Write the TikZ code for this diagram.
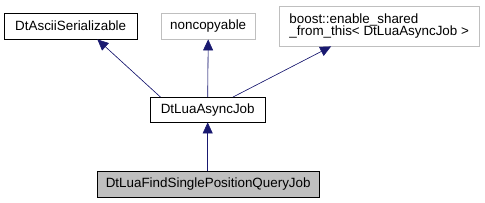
\documentclass[tikz,border=0pt]{standalone}
\usepackage{fontspec}
\setmainfont{Liberation Sans}
\usepackage{xcolor}
\usepackage{tikz}
\usetikzlibrary{positioning,arrows.meta,calc}
\definecolor{edgeblue}{RGB}{25,25,112}
\definecolor{boxgray}{RGB}{191,191,191}

\begin{document}
\begin{tikzpicture}[x=1pt,y=-1pt]
  \useasboundingbox (0,0) rectangle (485,203);
  \tikzset{
    cls/.style={rectangle, draw=black, fill=white, align=left, font=\fontsize{13.4}{12.5}\selectfont, inner sep=0pt, anchor=north west},
    ext/.style={cls, draw=boxgray},
    inh/.style={-{Triangle[length=11pt,width=10pt]}, draw=edgeblue, fill=edgeblue, semithick}
  }
  \node[cls, minimum width=133pt, minimum height=26pt] (ascii) at (4,13) {DtAsciiSerializable};
  \node[ext, minimum width=94pt, minimum height=26pt] (noncopy) at (161,13) {noncopyable};
  \node[ext, minimum width=200pt, minimum height=40pt] (shared) at (279,6) {boost::enable\_shared\\\_from\_this\textless{} DtLuaAsyncJob \textgreater};
  \node[cls, minimum width=115pt, minimum height=25pt] (async) at (150,97) {DtLuaAsyncJob};
  \node[cls, fill=boxgray, minimum width=222pt, minimum height=26pt] (query) at (97,171) {DtLuaFindSinglePositionQueryJob};
  % attach points
  \coordinate (asyncL) at ($(async.north west)!0.09!(async.north east)$);
  \coordinate (asyncR) at ($(async.north west)!0.72!(async.north east)$);
  \coordinate (asciiB) at ($(ascii.south west)!0.70!(ascii.south east)$);
  \coordinate (sharedB) at ($(shared.south west)!0.26!(shared.south east)$);
  \draw[inh] (asyncL) -- (asciiB);
  \draw[inh] (async.north) -- (noncopy.south);
  \draw[inh] (asyncR) -- (sharedB);
  \draw[inh] (query.north -| async.south) -- (async.south);
\end{tikzpicture}
\end{document}
